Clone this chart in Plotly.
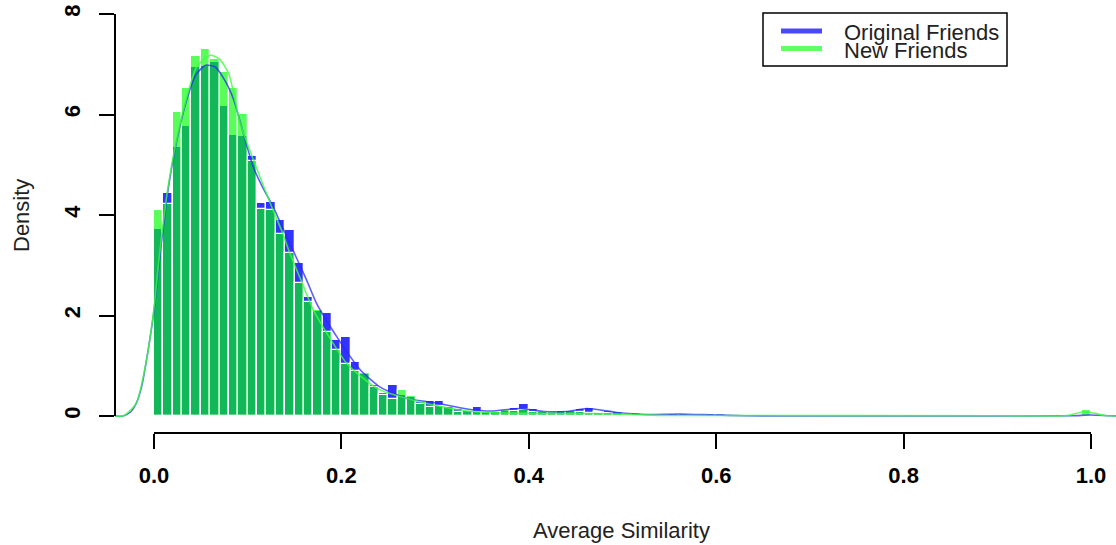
import plotly.graph_objects as go

# ---- data ----
bin_width = 0.01
bin_starts = [round(i * 0.01, 2) for i in range(100)]

orig_density_bins = [
    3.72, 4.43, 5.36, 5.77, 6.95, 6.97, 7.05, 6.16, 5.59, 5.57,
    5.17, 4.23, 4.26, 3.90, 3.70, 3.05, 2.36, 2.08, 2.04, 1.51,
    1.58, 1.07, 0.83, 0.62, 0.45, 0.62, 0.42, 0.38, 0.28, 0.29,
    0.30, 0.20, 0.13, 0.12, 0.17, 0.10, 0.08, 0.10, 0.15, 0.23,
    0.13, 0.07, 0.06, 0.10, 0.10, 0.13, 0.16, 0.07, 0.10, 0.07,
    0.04, 0.03, 0.03, 0.02, 0.02, 0.04, 0.04, 0.02, 0.02, 0.03,
    0.03, 0.02, 0.01, 0.01, 0.00, 0.00, 0.00, 0.00, 0.00, 0.00,
    0.00, 0.00, 0.00, 0.00, 0.00, 0.00, 0.00, 0.00, 0.00, 0.00,
    0.00, 0.00, 0.00, 0.00, 0.00, 0.00, 0.00, 0.00, 0.00, 0.00,
    0.00, 0.00, 0.00, 0.00, 0.00, 0.00, 0.00, 0.00, 0.00, 0.03,
]
new_density_bins = [
    4.10, 4.22, 6.04, 6.53, 7.17, 7.30, 7.10, 6.84, 6.52, 6.01,
    5.08, 4.11, 4.09, 3.62, 3.24, 2.65, 2.26, 2.10, 1.68, 1.31,
    1.03, 0.90, 0.85, 0.58, 0.42, 0.34, 0.52, 0.40, 0.24, 0.17,
    0.19, 0.17, 0.07, 0.10, 0.08, 0.08, 0.07, 0.12, 0.09, 0.12,
    0.08, 0.08, 0.07, 0.09, 0.09, 0.08, 0.06, 0.06, 0.06, 0.08,
    0.02, 0.05, 0.03, 0.01, 0.00, 0.00, 0.00, 0.00, 0.00, 0.00,
    0.00, 0.00, 0.00, 0.00, 0.00, 0.00, 0.00, 0.00, 0.00, 0.00,
    0.00, 0.00, 0.00, 0.00, 0.00, 0.00, 0.00, 0.00, 0.00, 0.00,
    0.00, 0.00, 0.00, 0.00, 0.00, 0.00, 0.00, 0.00, 0.00, 0.00,
    0.00, 0.00, 0.00, 0.00, 0.00, 0.00, 0.00, 0.00, 0.00, 0.12,
]

orig_kde_x = [-0.045, -0.033, -0.025, -0.019, -0.013, -0.008, -0.003, 0.0, 0.0064,
              0.015, 0.024, 0.035, 0.045, 0.055, 0.065, 0.075, 0.085, 0.095, 0.106,
              0.116, 0.127, 0.136, 0.145, 0.152, 0.163, 0.1735, 0.184, 0.195, 0.205,
              0.22, 0.241, 0.27, 0.298, 0.334, 0.36, 0.39, 0.416, 0.44, 0.462,
              0.494, 0.526, 0.561, 0.597, 0.63, 0.7, 0.9, 0.98, 1.0, 1.02, 1.03]
orig_kde_y = [0.0, 0.0, 0.08, 0.25, 0.6, 1.11, 1.7, 2.1, 3.2,
              4.5, 5.45, 6.3, 6.8, 6.98, 6.95, 6.7, 6.3, 5.65, 4.95,
              4.55, 4.17, 3.8, 3.44, 3.15, 2.7, 2.24, 1.9, 1.58, 1.3,
              0.92, 0.58, 0.35, 0.27, 0.14, 0.10, 0.15, 0.09, 0.09, 0.15,
              0.07, 0.03, 0.04, 0.02, 0.005, 0.0, 0.0, 0.005, 0.02, 0.005, 0.0]

new_kde_x = [-0.045, -0.033, -0.019, -0.008, 0.0, 0.0064, 0.015, 0.024, 0.035,
             0.0456, 0.06, 0.07, 0.08, 0.092, 0.103, 0.113, 0.127, 0.136, 0.145,
             0.158, 0.170, 0.191, 0.2055, 0.22, 0.241, 0.27, 0.298, 0.334, 0.37,
             0.42, 0.47, 0.511, 0.547, 0.6, 0.9, 0.975, 0.99, 1.0, 1.015, 1.03]
new_kde_y = [0.0, 0.0, 0.25, 1.11, 2.15, 3.3, 4.56, 5.49, 6.35,
             6.95, 7.18, 7.1, 6.8, 5.82, 5.25, 4.76, 4.10, 3.7, 3.24,
             2.65, 2.11, 1.45, 1.05, 0.8, 0.52, 0.35, 0.22, 0.10, 0.06,
             0.05, 0.05, 0.03, 0.01, 0.01, 0.005, 0.01, 0.08, 0.07, 0.01, 0.0]

x_tick_vals = [0.0, 0.2, 0.4, 0.6, 0.8, 1.0]
x_tick_text = ["0.0", "0.2", "0.4", "0.6", "0.8", "1.0"]
y_tick_vals = [0, 2, 4, 6, 8]
y_tick_text = ["0", "2", "4", "6", "8"]

series_names = ["Original Friends", "New Friends"]

# ---- styling ----
BLUE_FILL = "rgba(0,0,255,0.8)"
GREEN_FILL = "rgba(0,255,0,0.65)"
BLUE_LINE = "rgba(40,40,255,0.75)"
GREEN_LINE = "rgba(60,255,60,0.8)"
FONT = "Liberation Sans, Arial, Helvetica, sans-serif"

W, H = 1116, 545
ML, MR, MT, MB = 115, 0, 0, 112
plot_w = W - ML - MR
plot_h = H - MT - MB

centers = [s + bin_width / 2 for s in bin_starts]

fig = go.Figure()
fig.add_trace(go.Bar(x=centers, y=orig_density_bins, width=bin_width,
                     marker=dict(color=BLUE_FILL, line=dict(color="white", width=1.3)),
                     showlegend=False, hoverinfo="skip"))
fig.add_trace(go.Bar(x=centers, y=new_density_bins, width=bin_width,
                     marker=dict(color=GREEN_FILL, line=dict(color="white", width=1.3)),
                     showlegend=False, hoverinfo="skip"))
fig.add_trace(go.Scatter(x=orig_kde_x, y=orig_kde_y, mode="lines",
                         line=dict(color=BLUE_LINE, width=1.6, shape="spline", smoothing=0.6),
                         showlegend=False, hoverinfo="skip"))
fig.add_trace(go.Scatter(x=new_kde_x, y=new_kde_y, mode="lines",
                         line=dict(color=GREEN_LINE, width=1.6, shape="spline", smoothing=0.6),
                         showlegend=False, hoverinfo="skip"))

x_lo = (ML - 154) / 937.0
x_hi = (W - 154) / 937.0
y_lo = -(433 - 416) / 50.25
y_hi = 416 / 50.25

TICKFONT = dict(family=FONT, size=22, color="black", weight="bold")

fig.update_layout(
    width=W, height=H,
    margin=dict(l=ML, r=MR, t=MT, b=MB, pad=0),
    paper_bgcolor="white", plot_bgcolor="white",
    barmode="overlay", bargap=0,
    font=dict(family=FONT, size=22, color="black"),
    showlegend=False,
    xaxis=dict(range=[x_lo, x_hi], showgrid=False, zeroline=False, showline=False,
               tickmode="array", tickvals=x_tick_vals, ticktext=x_tick_text,
               ticks="outside", ticklen=15, tickwidth=2, tickcolor="black",
               ticklabelstandoff=8, tickfont=TICKFONT),
    yaxis=dict(range=[y_lo, y_hi], showgrid=False, zeroline=False, showline=False,
               tickmode="array", tickvals=y_tick_vals, ticktext=y_tick_text,
               ticks="outside", ticklen=15, tickwidth=2, tickcolor="black",
               tickangle=-90, ticklabelstandoff=10, tickfont=TICKFONT),
)

# axis lines (R style: only spanning the tick range)
fig.add_shape(type="line", xref="x", yref="paper", x0=x_tick_vals[0], x1=x_tick_vals[-1],
              y0=0, y1=0, line=dict(color="black", width=2))
fig.add_shape(type="line", xref="paper", yref="y", x0=0, x1=0,
              y0=y_tick_vals[0], y1=y_tick_vals[-1], line=dict(color="black", width=2))

def px(xp):
    return (xp - ML) / plot_w

def py(yp):
    return (MT + plot_h - yp) / plot_h

# axis titles
fig.add_annotation(text="Average Similarity", xref="paper", yref="paper",
                   x=px(621), y=py(530), showarrow=False, xanchor="center", yanchor="middle",
                   font=dict(family=FONT, size=22, color="#222"))
fig.add_annotation(text="Density", xref="paper", yref="paper",
                   x=px(22), y=py(216), showarrow=False, textangle=-90,
                   xanchor="center", yanchor="middle",
                   font=dict(family=FONT, size=22, color="#222"))

# manual legend (R style)
fig.add_shape(type="rect", xref="paper", yref="paper",
              x0=px(763), x1=px(1007), y0=py(66), y1=py(13),
              line=dict(color="black", width=1.5), fillcolor="white")
for i, (name, col) in enumerate(zip(series_names, ["rgba(40,40,255,0.85)", "rgba(70,255,70,0.85)"])):
    yl = 31 + i * 17.5
    fig.add_shape(type="line", xref="paper", yref="paper",
                  x0=px(781), x1=px(822), y0=py(yl), y1=py(yl),
                  line=dict(color=col, width=5))
    fig.add_annotation(text=name, xref="paper", yref="paper",
                       x=px(842), y=py(yl + 1.5), showarrow=False,
                       xanchor="left", yanchor="middle",
                       font=dict(family=FONT, size=22, color="#222"))

fig.write_html("out.html")
